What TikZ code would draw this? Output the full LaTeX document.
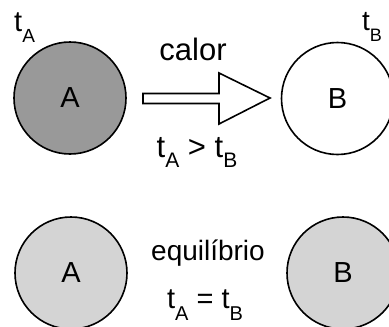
\documentclass[tikz,border=0pt]{standalone}
\usepackage{fontspec}
\setmainfont{Liberation Sans}
\newcommand\fs[1]{\fontsize{#1}{#1}\selectfont}
\newcommand\tsub[4]{{\fs{#1}t\raisebox{-#3pt}{\fs{#2}#4}}}
\begin{document}
\begin{tikzpicture}[x=1pt,y=-1pt,
  ball/.style={circle,draw=black,line width=1.6pt,minimum size=112pt,inner sep=0pt,font=\fs{29}},
  lbl/.style={inner sep=0pt,anchor=base}]
\useasboundingbox (0,0) rectangle (389,327);
\node[ball,fill=black!40] (A1) at (70,98) {A};
\node[ball,fill=white] (B1) at (337.5,98.5) {B};
\node[ball,fill=black!17] (A2) at (71,273) {A};
\node[ball,fill=black!17] (B2) at (343,273) {B};
\node[lbl,anchor=base west] (tA) at (14,31) {\tsub{29}{19}{11}{A}};
\node[lbl,anchor=base west] (tB) at (362,30) {\tsub{28}{18}{11}{B}};
\node[lbl] (calor) at (193,60) {\fs{31}calor};
\node[lbl] (ineq) at (197,157) {\tsub{31}{21}{10}{A}{\fs{31} > }\tsub{31}{21}{10}{B}};
\node[lbl] (eq) at (208,260) {\fs{28}equilíbrio};
\node[lbl] (equal) at (205,308) {\tsub{29}{20}{12}{A}{\fs{29} = }\tsub{29}{20}{12}{B}};
\draw[line width=1.6pt,fill=white,line join=miter] (143,93.5) -- (219,93.5) -- (219,73) -- (270,98) -- (219,124) -- (219,103.5) -- (143,103.5) -- cycle;
\end{tikzpicture}
\end{document}
